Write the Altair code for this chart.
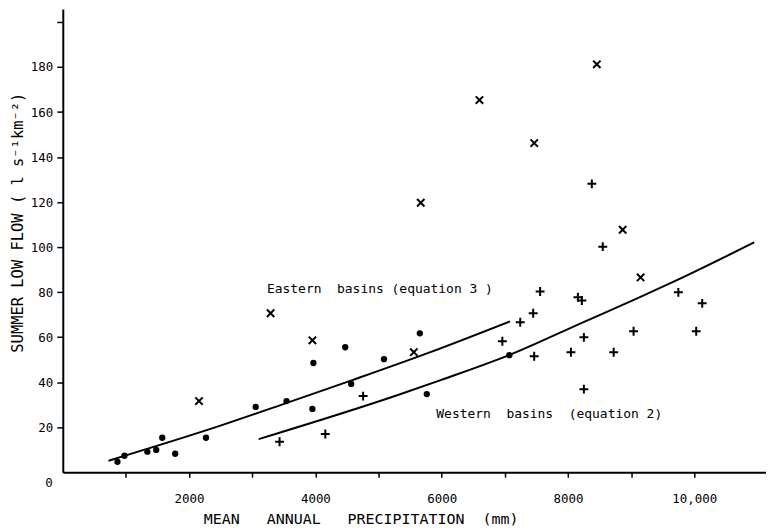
import altair as alt
import pandas as pd

# ---- data ----
dot_x = [866, 976, 1339, 1480, 1575, 1780, 2268, 3055, 3543, 3969, 3953, 4472, 4567, 5087, 5654, 5764, 7071]
dot_y = [4.6, 7.3, 9.1, 9.9, 15.3, 8.2, 15.3, 29.0, 31.6, 48.5, 28.1, 55.5, 39.2, 50.2, 61.7, 34.7, 52.0]

cross_x = [2157, 3291, 3953, 5559, 5669, 6598, 7465, 8457, 8866, 9150]
cross_y = [31.6, 70.6, 58.6, 53.3, 119.7, 165.3, 146.2, 181.2, 107.7, 86.5]

plus_x = [3433, 4157, 4756, 6961, 7244, 7449, 7465, 7559, 8047, 8157, 8220, 8252, 8252,
          8378, 8551, 8724, 9039, 9748, 10126, 10031]
plus_y = [13.5, 17.0, 33.8, 58.2, 66.6, 70.6, 51.5, 80.3, 53.3, 77.7, 76.3, 59.9, 36.9,
          128.1, 100.2, 53.3, 62.6, 79.9, 75.0, 62.6]

east_x = [724, 2520, 3549, 4574, 5789, 7082]
east_y = [5.1, 20.9, 30.8, 40.8, 53.0, 67.0]

west_x = [3102, 5307, 5984, 7066, 8247, 9087, 9717, 10950]
west_y = [14.7, 34.3, 40.9, 52.0, 66.7, 77.1, 85.2, 102.1]

x_ticks = [1000, 2000, 3000, 4000, 5000, 6000, 7000, 8000, 9000, 10000]
y_ticks = [20, 40, 60, 80, 100, 120, 140, 160, 180, 200]

NB = "\u00a0"
east_label = "Eastern" + NB * 2 + "basins" + NB + "(equation" + NB + "3" + NB + ")"
west_label = "Western" + NB * 2 + "basins" + NB * 2 + "(equation" + NB + "2)"
x_title = "MEAN" + NB * 3 + "ANNUAL" + NB * 3 + "PRECIPITATION" + NB * 2 + "(mm)"
y_title = "SUMMER" + NB + "LOW" + NB + "FLOW" + NB + "(" + NB + "l" + NB + "s\u207b\u00b9km\u207b\u00b2)"

FONT = "DejaVu Sans Mono"

dots = pd.DataFrame({"x": dot_x, "y": dot_y})
crosses = pd.DataFrame({"x": cross_x, "y": cross_y})
pluses = pd.DataFrame({"x": plus_x, "y": plus_y})
east = pd.DataFrame({"x": east_x, "y": east_y})
west = pd.DataFrame({"x": west_x, "y": west_y})

x_scale = alt.Scale(domain=[0, 11136], nice=False, zero=False)
y_scale = alt.Scale(domain=[0, 205.75], nice=False, zero=False)

x_axis = alt.Axis(
    values=x_ticks,
    labelExpr="datum.value == 10000 ? '10,000' : (datum.value % 2000 == 0 ? format(datum.value, 'd') : '')",
    grid=False, tickSize=5, tickWidth=1.5, tickColor="black",
    domainColor="black", domainWidth=2,
    labelFont=FONT, labelFontSize=12.5, labelColor="black", labelPadding=15,
    labelFlush=False, labelOverlap=False, labelBound=False,
    title=x_title, titleFont=FONT, titleFontSize=15, titleFontWeight="normal",
    titleColor="black", titleX=299, titleY=47, titleAlign="center", titleBaseline="middle",
)
y_axis = alt.Axis(
    values=y_ticks,
    labelExpr="datum.value == 200 ? '' : format(datum.value, 'd')",
    grid=False, tickSize=6, tickWidth=1.5, tickColor="black",
    domainColor="black", domainWidth=2,
    labelFont=FONT, labelFontSize=12.5, labelColor="black", labelPadding=4,
    labelOverlap=False, labelBound=False,
    title=y_title, titleFont=FONT, titleFontSize=15.5, titleFontWeight="normal",
    titleColor="black", titleX=-45, titleY=214, titleAngle=270,
    titleAlign="center", titleBaseline="middle",
)

X = alt.X("x:Q", scale=x_scale, axis=x_axis)
Y = alt.Y("y:Q", scale=y_scale, axis=y_axis)

cross_path = "M-1,-1L1,1M-1,1L1,-1"
plus_path = "M-1,0L1,0M0,-1L0,1"

dot_layer = alt.Chart(dots).mark_circle(size=40, color="black", opacity=1).encode(x=X, y=Y)
cross_layer = alt.Chart(crosses).mark_point(
    shape=cross_path, size=55, filled=False, color="black", strokeWidth=2, opacity=1
).encode(x=X, y=Y)
plus_layer = alt.Chart(pluses).mark_point(
    shape=plus_path, size=80, filled=False, color="black", strokeWidth=2, opacity=1
).encode(x=X, y=Y)

east_line = alt.Chart(east).mark_line(color="black", strokeWidth=2, interpolate="monotone").encode(x=X, y=Y)
west_line = alt.Chart(west).mark_line(color="black", strokeWidth=2, interpolate="monotone").encode(x=X, y=Y)

east_text = alt.Chart(pd.DataFrame({"x": [3233], "y": [81.2], "t": [east_label]})).mark_text(
    align="left", baseline="middle", font=FONT, fontSize=13, color="black"
).encode(x=X, y=Y, text="t:N")
west_text = alt.Chart(pd.DataFrame({"x": [5915], "y": [25.9], "t": [west_label]})).mark_text(
    align="left", baseline="middle", font=FONT, fontSize=13, color="black"
).encode(x=X, y=Y, text="t:N")
zero_text = alt.Chart(pd.DataFrame({"x": [0], "y": [0], "t": ["0"]})).mark_text(
    align="right", baseline="middle", dx=-10, dy=11, font=FONT, fontSize=12.5, color="black"
).encode(x=X, y=Y, text="t:N")

chart = alt.layer(
    east_line, west_line, dot_layer, cross_layer, plus_layer, east_text, west_text, zero_text
).properties(
    width=706, height=465,
    padding={"left": 55, "top": 0, "right": 0, "bottom": 58},
    autosize=alt.AutoSizeParams(type="none"),
    background="white",
).configure_view(strokeWidth=0)

chart.save("out.html", embed_options={"renderer": "svg", "actions": False})
